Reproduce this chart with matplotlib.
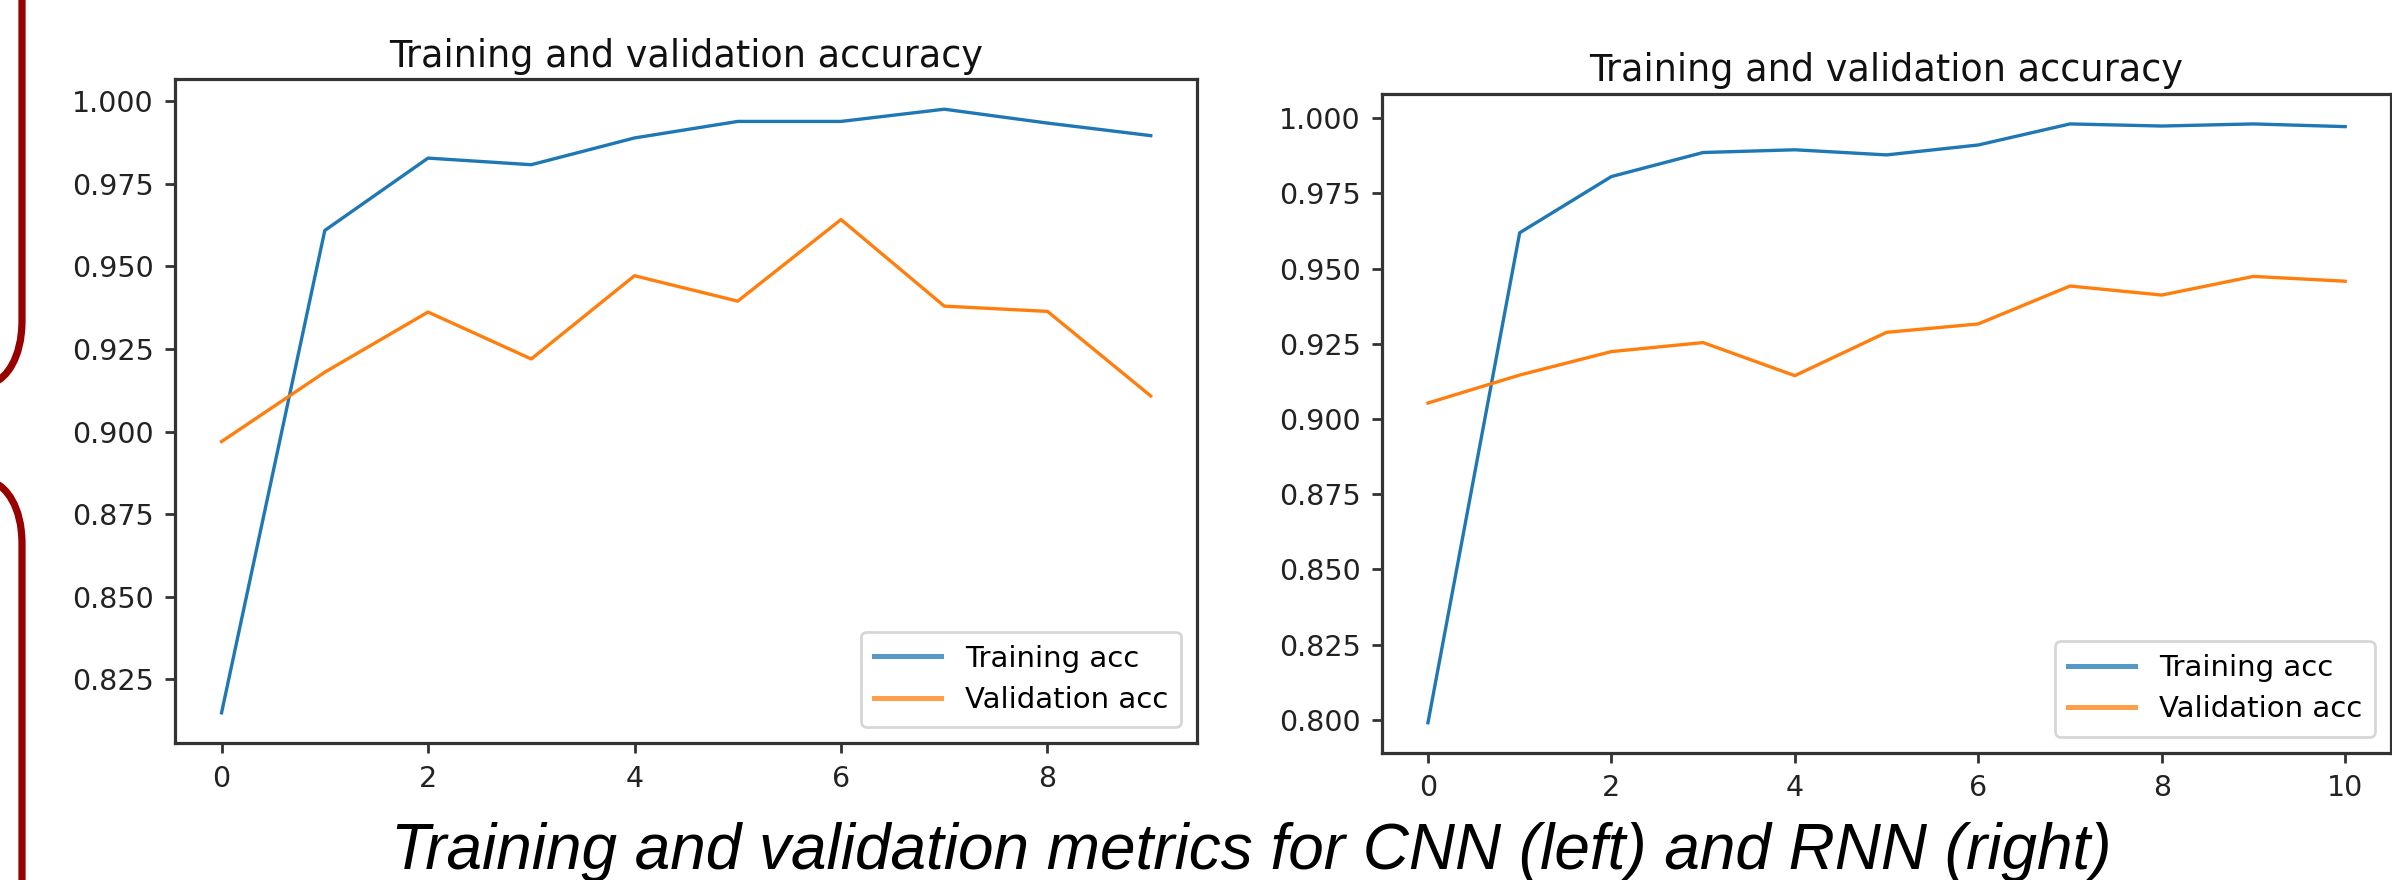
"""CNN vs RNN training/validation accuracy side by side"""
import matplotlib
matplotlib.use("Agg")
import matplotlib.pyplot as plt
from matplotlib.path import Path
from matplotlib.patches import PathPatch

# CNN (left)
cnn_epochs = list(range(10))
cnn_train_acc = [0.8149, 0.9609, 0.9828, 0.9808, 0.9889, 0.9939, 0.9939, 0.9976, 0.9934, 0.9896]
cnn_val_acc = [0.8970, 0.9180, 0.9362, 0.9220, 0.9472, 0.9395, 0.9642, 0.9380, 0.9364, 0.9108]

# RNN (right)
rnn_epochs = list(range(11))
rnn_train_acc = [0.7990, 0.9619, 0.9806, 0.9886, 0.9895, 0.9878, 0.9911, 0.9981, 0.9974, 0.9981, 0.9972]
rnn_val_acc = [0.9053, 0.9146, 0.9224, 0.9254, 0.9144, 0.9288, 0.9316, 0.9442, 0.9412, 0.9474, 0.9458]

title = "Training and validation accuracy"
labels = ["Training acc", "Validation acc"]
caption = "Training and validation metrics for CNN (left) and RNN (right)"

BLUE = "#1f77b4"
ORANGE = "#ff7f0e"
DARKRED = "#990000"

fig = plt.figure(figsize=(23.92, 8.8), dpi=100)
ax1 = fig.add_axes([0.0732, 0.1557, 0.4273, 0.7545])
ax2 = fig.add_axes([0.5778, 0.1447, 0.4218, 0.7485])


def draw_panel(ax, x, train, val):
    ax.plot(x, train, color=BLUE, lw=2.4, label=labels[0])
    ax.plot(x, val, color=ORANGE, lw=2.4, label=labels[1])
    ax.set_title(title, fontsize=26.3, color="#111111", pad=9)
    ax.yaxis.set_major_formatter(matplotlib.ticker.FormatStrFormatter("%.3f"))
    ax.tick_params(labelsize=20.5, length=7.5, width=2, colors="#333333",
                   labelcolor="#222222", pad=8)
    for s in ax.spines.values():
        s.set_linewidth(2.3)
        s.set_color("#333333")
    leg = ax.legend(loc="lower right", fontsize=21, handlelength=2.3,
                    borderpad=0.45, labelspacing=0.45, borderaxespad=0.55)
    leg.get_frame().set_edgecolor("#cccccc")
    leg.get_frame().set_linewidth(2)
    for line in leg.get_lines():
        line.set_linewidth(3.6)
        line.set_alpha(0.75)


draw_panel(ax1, cnn_epochs, cnn_train_acc, cnn_val_acc)
draw_panel(ax2, rnn_epochs, rnn_train_acc, rnn_val_acc)

fig.text(0.523, 0.0125, caption, ha="center", va="baseline", fontsize=46,
         style="italic", family="Liberation Sans", color="black")

# dark red bracket pieces at the left edge (slide decoration)
W, H = 2392.0, 880.0
def px(x, y):
    return (x / W, 1 - y / H)

upper = Path([px(22, -10), px(22, 320), px(22, 360), px(5, 378), px(-5, 382)],
             [Path.MOVETO, Path.LINETO, Path.CURVE4, Path.CURVE4, Path.CURVE4])
lower = Path([px(-5, 483), px(5, 487), px(22, 505), px(22, 544), px(22, 890)],
             [Path.MOVETO, Path.CURVE4, Path.CURVE4, Path.CURVE4, Path.LINETO])
for p in (upper, lower):
    fig.patches.append(PathPatch(p, transform=fig.transFigure, fill=False,
                                 edgecolor=DARKRED, lw=5.2, capstyle="butt"))

fig.savefig("out.png", dpi=100)
